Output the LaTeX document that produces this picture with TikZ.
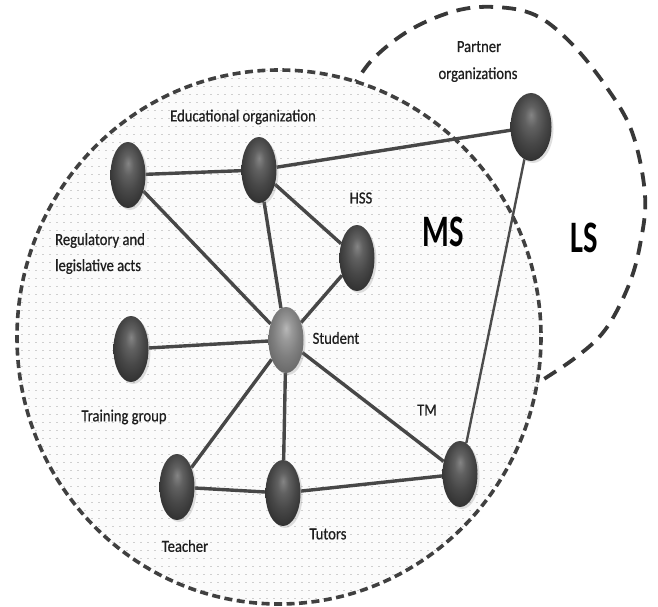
\documentclass[tikz,border=0pt]{standalone}
\usepackage{fontspec}
\setmainfont{Carlito}
\newfontfamily\lblfont[FakeStretch=0.86, FakeBold=0.6]{Carlito}
\usetikzlibrary{shapes.geometric,patterns,shadows}
\pgfdeclarelayer{bg}
\pgfdeclarelayer{edges}
\pgfsetlayers{bg,edges,main}
\pgfdeclarepatternformonly{msdots}{\pgfqpoint{-1pt}{-1pt}}{\pgfqpoint{8pt}{9pt}}{\pgfqpoint{7pt}{8pt}}{%
  \pgfpathrectangle{\pgfqpoint{0pt}{0pt}}{\pgfqpoint{2.2pt}{1pt}}\pgfusepath{fill}}
\pgfdeclareradialshading{darkball}{\pgfpoint{0bp}{9bp}}{color(0bp)=(black!48); color(8bp)=(black!62); color(18bp)=(black!72); color(28bp)=(black!80); color(50bp)=(black!85)}
\pgfdeclareradialshading{studball}{\pgfpoint{0bp}{9bp}}{color(0bp)=(black!28); color(8bp)=(black!40); color(18bp)=(black!50); color(28bp)=(black!58); color(50bp)=(black!62)}
\tikzset{
  ballnode/.style={ellipse, minimum width=35pt, minimum height=66pt, inner sep=0pt,
    shading=darkball, drop shadow={shadow xshift=2pt, shadow yshift=-2pt, opacity=0.25}},
  studnode/.style={ballnode, shading=studball},
  lbl/.style={font=\lblfont\fontsize{17}{26}\selectfont, text=black!88, inner sep=0pt},
  biglbl/.style={font=\bfseries\fontsize{45}{45}\selectfont, text=black, inner sep=0pt},
  link/.style={line width=3.4pt, draw=black!72},
  thinlink/.style={line width=2.4pt, draw=black!70},
}
\begin{document}
\begin{tikzpicture}[x=1pt,y=-1pt]
\useasboundingbox (0,0) rectangle (658,607);
\begin{pgfonlayer}{bg}
  \draw[line width=3.8pt, draw=black!78, dash pattern=on 14pt off 9pt]
    plot[smooth, tension=0.6] coordinates {(350,92) (372,60) (410,30) (455,11) (495,7) (535,15) (570,42) (605,85) (632,132) (645,195) (640,245) (628,287) (605,330) (575,358) (536,384)};
  \fill[gray!3] (279,337) ellipse [x radius=262, y radius=267];
  \fill[pattern=msdots, pattern color=gray!38] (279,337) ellipse [x radius=262, y radius=267];
  \draw[line width=3.6pt, draw=black!75, dash pattern=on 8pt off 4.5pt] (279,337) ellipse [x radius=262, y radius=267];
\end{pgfonlayer}

\node[ballnode] (reg) at (128,175) {};
\node[ballnode] (edu) at (259,170) {};
\node[ballnode, minimum width=41pt, minimum height=68pt] (partner) at (531,127) {};
\node[ballnode] (hss) at (357,258) {};
\node[studnode] (student) at (286,340) {};
\node[ballnode] (train) at (131,349) {};
\node[ballnode] (teacher) at (177,487) {};
\node[ballnode] (tutors) at (283,493) {};
\node[ballnode] (tm) at (460,474) {};

\begin{pgfonlayer}{edges}
  \draw[link] (reg) -- (edu);
  \draw[link] (edu) -- (partner);
  \draw[link] (edu) -- (hss);
  \draw[link] (edu) -- (student);
  \draw[link] (reg) -- (student);
  \draw[link] (hss) -- (student);
  \draw[link] (train) -- (student);
  \draw[link] (student) -- (teacher);
  \draw[link] (student) -- (tutors);
  \draw[link] (student) -- (tm);
  \draw[link] (teacher) -- (tutors);
  \draw[link] (tutors) -- (tm);
  \draw[thinlink] (partner) -- (tm);
\end{pgfonlayer}

\node[lbl] (leduc) at (243,117) {Educational organization};
\node[lbl, anchor=base] (lpartner1) at (479,52) {Partner};
\node[lbl, anchor=base] (lpartner2) at (478,79) {organizations};
\node[lbl, anchor=base west] (lreg1) at (55,245) {Regulatory and};
\node[lbl, anchor=base west] (lreg2) at (55,271) {legislative acts};
\node[lbl] (lhss) at (361,198) {HSS};
\node[lbl] (lstudent) at (336,338) {Student};
\node[lbl] (ltrain) at (124,417) {Training group};
\node[lbl] (ltm) at (427,410) {TM};
\node[lbl] (lteacher) at (185,546) {Teacher};
\node[lbl] (ltutors) at (328,534) {Tutors};
\node[biglbl] (lms) at (443,232) {\scalebox{0.68}[1]{MS}};
\node[biglbl] (lls) at (584,238) {\scalebox{0.68}[1]{LS}};
\end{tikzpicture}
\end{document}
